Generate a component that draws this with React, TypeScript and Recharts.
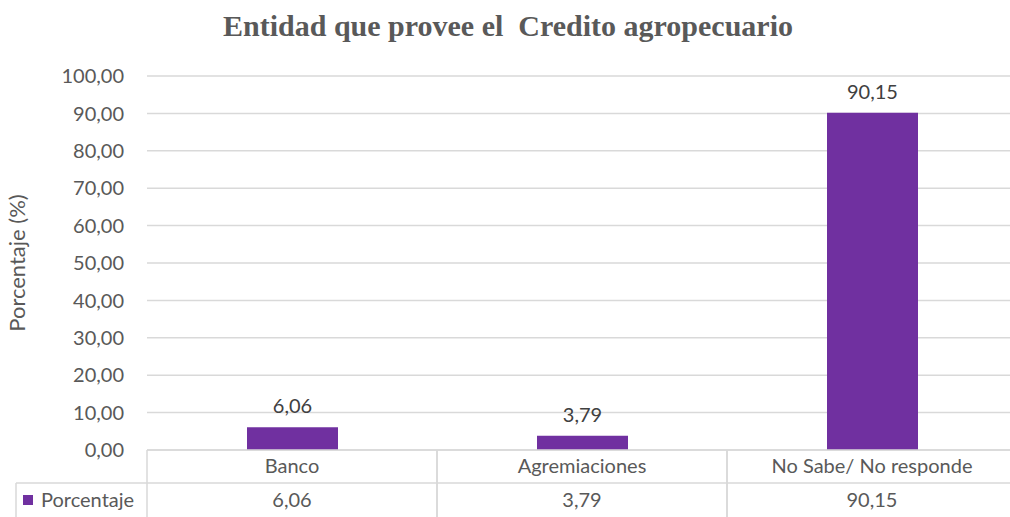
import React from 'react';
import { BarChart, Bar, XAxis, YAxis, CartesianGrid, LabelList } from 'recharts';

const categories = ['Banco', 'Agremiaciones', 'No Sabe/ No responde'];
const porcentaje = [6.06, 3.79, 90.15];
const yTicks = [0, 10, 20, 30, 40, 50, 60, 70, 80, 90, 100];

const data = categories.map((name, i) => ({ name, porcentaje: porcentaje[i] }));

const barColor = '#7030A0';
const textColor = '#595959';
const lineColor = '#d9d9d9';
const font = 'Lato, "Open Sans", sans-serif';
const fs = 20;

const fmt = (v: number) => v.toFixed(2).replace('.', ',');

const TableTick = (props: any) => {
  const { x, y, payload, index } = props;
  const half = payload.offset || 145;
  const top = y - 8;
  const left = x - half;
  const right = x + half;
  const mid = top + 33;
  const bottom = top + 80;
  return (
    <g>
      <line x1={left} y1={top} x2={left} y2={bottom} stroke={lineColor} strokeWidth={1.5} />
      <line x1={right} y1={top} x2={right} y2={bottom} stroke={lineColor} strokeWidth={1.5} />
      <line x1={left} y1={mid} x2={right} y2={mid} stroke={lineColor} strokeWidth={1.5} />
      <text x={x} y={top + 23} textAnchor="middle" fill={textColor} fontSize={fs} fontFamily={font}>
        {payload.value}
      </text>
      <text x={x} y={mid + 24} textAnchor="middle" fill={textColor} fontSize={fs} fontFamily={font}>
        {fmt(porcentaje[index])}
      </text>
      {index === 0 && (
        <g>
          <line x1={16} y1={mid} x2={left} y2={mid} stroke={lineColor} strokeWidth={1.5} />
          <line x1={16} y1={mid} x2={16} y2={bottom} stroke={lineColor} strokeWidth={1.5} />
          <rect x={23} y={mid + 12} width={10} height={10} fill={barColor} />
          <text x={41} y={mid + 24} fill={textColor} fontSize={fs} fontFamily={font}>
            Porcentaje
          </text>
        </g>
      )}
    </g>
  );
};

export default function App() {
  return (
    <div
      style={{
        position: 'absolute',
        left: 0,
        top: 0,
        width: 1010,
        height: 517,
        overflow: 'hidden',
        background: '#ffffff',
      }}
    >
      <div
        style={{
          position: 'absolute',
          top: 9,
          left: 0,
          width: 1016,
          textAlign: 'center',
          fontFamily: '"Liberation Serif", "Times New Roman", serif',
          fontWeight: 'bold',
          fontSize: 30,
          color: textColor,
        }}
      >
        Entidad que provee el&nbsp; Credito agropecuario
      </div>
      <BarChart
        width={1017}
        height={517}
        data={data}
        margin={{ top: 76, right: 0, left: 0, bottom: 0 }}
        style={{ position: 'absolute', left: 0, top: 0 }}
      >
        <CartesianGrid vertical={false} stroke={lineColor} strokeWidth={1.5} />
        <XAxis
          dataKey="name"
          axisLine={{ stroke: lineColor, strokeWidth: 1.5 }}
          tickLine={false}
          tick={<TableTick />}
          interval={0}
          height={67}
        />
        <YAxis
          domain={[0, 100]}
          ticks={yTicks}
          width={147}
          axisLine={false}
          tickLine={false}
          tickFormatter={fmt}
          tick={{ fill: textColor, fontSize: fs, fontFamily: font, dx: -15 }}
          label={{
            value: 'Porcentaje (%)',
            angle: -90,
            position: 'insideLeft',
            dx: 12,
            style: { textAnchor: 'middle', fill: textColor, fontSize: 22, fontFamily: font },
          }}
        />
        <Bar dataKey="porcentaje" fill={barColor} barSize={91} isAnimationActive={false}>
          <LabelList
            dataKey="porcentaje"
            position="top"
            offset={14}
            formatter={(v: any) => fmt(Number(v))}
            style={{ fill: '#404040', fontSize: fs, fontFamily: font }}
          />
        </Bar>
      </BarChart>
    </div>
  );
}
